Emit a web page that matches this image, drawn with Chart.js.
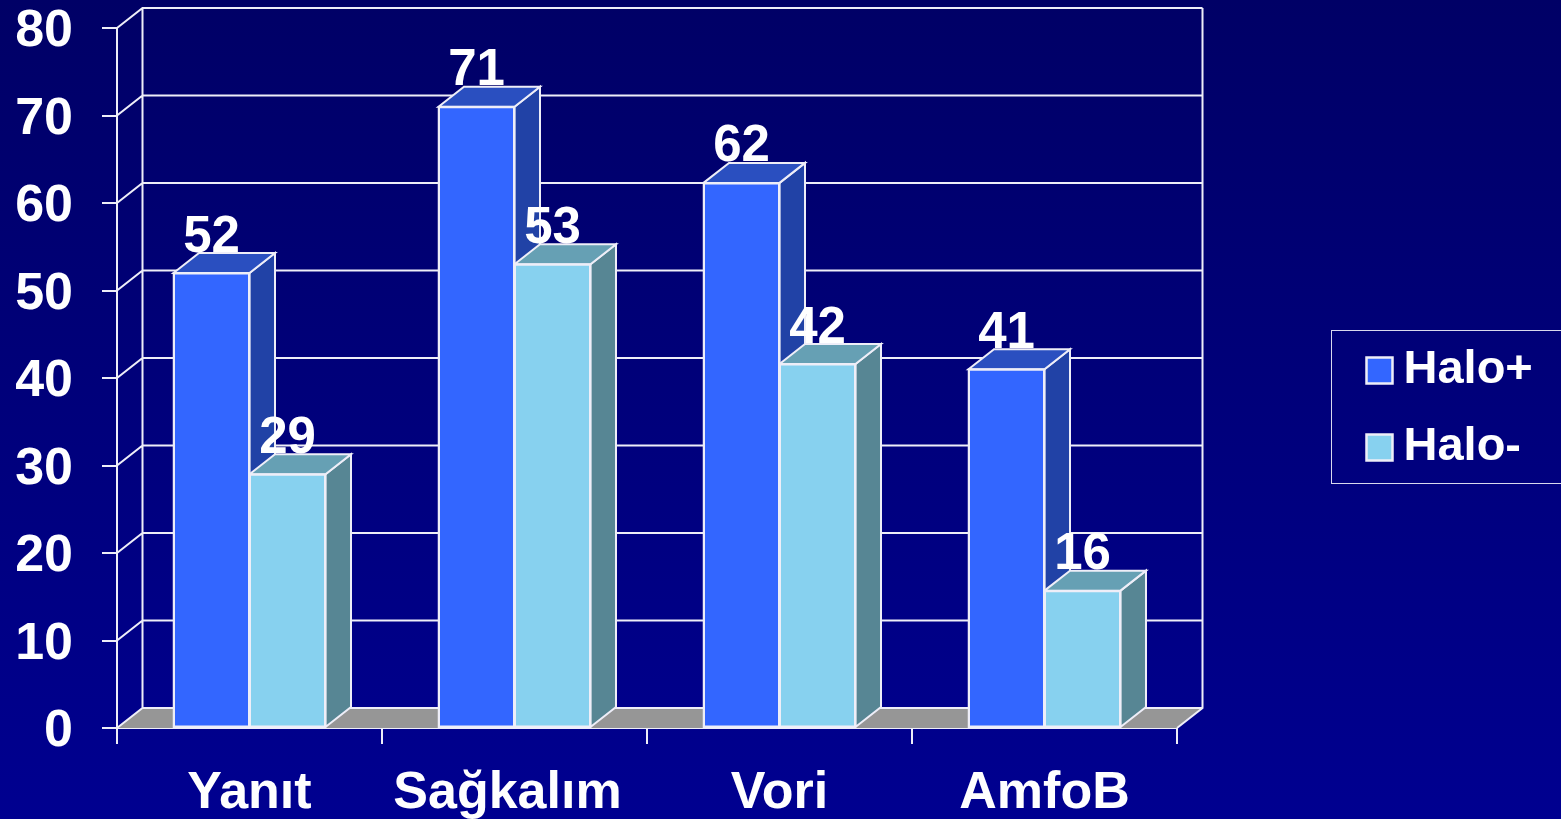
<!DOCTYPE html>
<html>
<head>
<meta charset="utf-8">
<style>
html,body{margin:0;padding:0;width:1561px;height:819px;overflow:hidden;background:linear-gradient(#000066,#000090);}
canvas{display:block;}
</style>
<script src="https://cdn.jsdelivr.net/npm/chart.js@4"></script>
</head>
<body>
<canvas id="c" width="1561" height="819"></canvas>
<script>
const categories = ['Yanıt', 'Sağkalım', 'Vori', 'AmfoB'];
const seriesNames = ['Halo+', 'Halo-'];
const haloPlus = [52, 71, 62.3, 41];
const haloMinus = [29, 53, 41.6, 15.7];
const FONT = '"Liberation Sans", Arial, sans-serif';
const LINE = '#eeeef8';
const DX = 25.5, DY = 20;
const faces = [
  {front:'#3366ff', side:'#2142a6', top:'#2a4fc0'},
  {front:'#87d1ef', side:'#578694', top:'#66a0b4'}
];
function poly(ctx, pts, fill, stroke, lw){
  ctx.beginPath();
  pts.forEach((p,i)=> i ? ctx.lineTo(p[0],p[1]) : ctx.moveTo(p[0],p[1]));
  ctx.closePath();
  if(fill){ctx.fillStyle=fill;ctx.fill();}
  if(stroke){ctx.strokeStyle=stroke;ctx.lineWidth=lw;ctx.stroke();}
}
const box3d = {
  id:'box3d',
  afterLayout(chart){
    const l = chart.legend;
    l.left = 1379 - l.options.labels.padding;
    l.top = 317;
    l.right = 1561; l.bottom = 800;
  },
  beforeDraw(chart){
    // the reference sets this one category label slightly left of its group
    const items = chart.scales.x.getLabelItems();
    if(items[1] && !items[1].moved){ items[1].options.translation[0] -= 7; items[1].moved = true; }
  },
  beforeDatasetsDraw(chart){
    const ctx = chart.ctx, {x, y} = chart.scales;
    const L = chart.chartArea.left, R = chart.chartArea.right;
    const b = y.getPixelForValue(0), t = y.getPixelForValue(80);
    ctx.save();
    poly(ctx, [[L,b],[L+DX,b-DY],[R+DX,b-DY],[R,b]], '#969696', null, 0);
    ctx.strokeStyle = LINE; ctx.lineWidth = 2;
    ctx.beginPath();
    y.ticks.forEach(tk=>{
      const p = y.getPixelForValue(tk.value);
      ctx.moveTo(L,p); ctx.lineTo(L+DX,p-DY); ctx.lineTo(R+DX,p-DY);
    });
    ctx.moveTo(L+DX,t-DY); ctx.lineTo(L+DX,b-DY);
    ctx.moveTo(R+DX,t-DY); ctx.lineTo(R+DX,b-DY); ctx.lineTo(R,b);
    ctx.stroke();
    // legend frame
    ctx.lineWidth = 1;
    ctx.strokeStyle = '#d8d8ee';
    ctx.strokeRect(1331.5,330.5,240,153);
    // bar sides and tops
    chart.data.labels.forEach((_,i)=>{
      chart.data.datasets.forEach((ds,d)=>{
        const e = chart.getDatasetMeta(d).data[i];
        const l = e.x-e.width/2, r = e.x+e.width/2, tp = e.y, bs = e.base;
        poly(ctx,[[r,tp],[r+DX,tp-DY],[r+DX,bs-DY],[r,bs]],faces[d].side,LINE,2);
        poly(ctx,[[l,tp],[l+DX,tp-DY],[r+DX,tp-DY],[r,tp]],faces[d].top,LINE,2);
      });
    });
    ctx.restore();
  },
  afterDatasetsDraw(chart){
    const ctx = chart.ctx;
    ctx.save();
    ctx.fillStyle = '#fff';
    ctx.font = 'bold 51px '+FONT;
    ctx.textAlign = 'center';
    ctx.textBaseline = 'alphabetic';
    chart.data.datasets.forEach((ds,d)=>{
      chart.getDatasetMeta(d).data.forEach((e,i)=>{
        ctx.fillText(String(Math.round(ds.data[i])), e.x, e.y-21.5);
      });
    });
    ctx.restore();
  }
};
function fixSize(prop,val){
  return s=>{ s[prop]=val; s.paddingTop=0; s.paddingBottom=0; s.paddingLeft=0; s.paddingRight=0; };
}
new Chart(document.getElementById('c'),{
  type:'bar',
  data:{labels:categories,datasets:[
    {label:seriesNames[0],data:haloPlus,backgroundColor:faces[0].front,borderColor:LINE,borderWidth:2.5,borderSkipped:false,inflateAmount:1},
    {label:seriesNames[1],data:haloMinus,backgroundColor:faces[1].front,borderColor:LINE,borderWidth:2.5,borderSkipped:false,inflateAmount:1}
  ]},
  options:{
    responsive:false,animation:false,
    layout:{padding:{left:0,top:28,right:384,bottom:0}},
    datasets:{bar:{categoryPercentage:0.5736,barPercentage:1}},
    scales:{
      x:{
        afterFit:fixSize('height',91),
        grid:{offset:true,drawOnChartArea:false,tickLength:16,tickColor:LINE,lineWidth:2},
        border:{color:LINE,width:2},
        ticks:{color:'#fff',font:{family:FONT,size:52,weight:'bold'},padding:18,autoSkip:false,maxRotation:0}
      },
      y:{
        min:0,max:80,
        afterFit:fixSize('width',117),
        grid:{drawOnChartArea:false,tickLength:15,tickColor:LINE,lineWidth:2},
        border:{color:LINE,width:2},
        ticks:{color:'#fff',stepSize:10,font:{family:FONT,size:52,weight:'bold'},padding:29,labelOffset:4}
      }
    },
    plugins:{
      tooltip:{enabled:false},
      title:{display:false},
      legend:{
        position:'chartArea',align:'start',
        labels:{color:'#fff',font:{family:FONT,size:47,weight:'bold'},usePointStyle:true,pointStyle:'rect',boxWidth:1,boxHeight:26,padding:30}
      }
    }
  },
  plugins:[box3d]
});
</script>
</body>
</html>
